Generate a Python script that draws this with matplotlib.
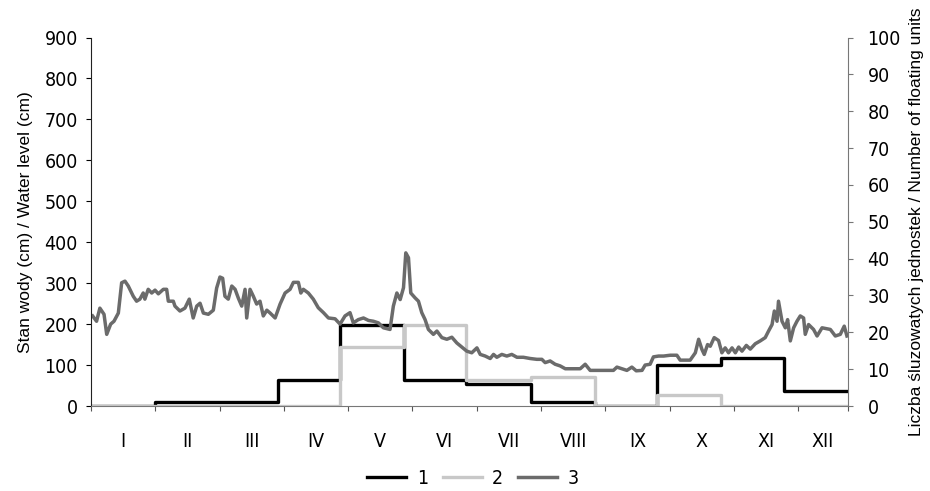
import numpy as np
import matplotlib
matplotlib.use('Agg')
import matplotlib.pyplot as plt

# monthly numbers of floating units (right axis)
month_start = [0, 31, 59, 90, 120, 151, 181, 212, 243, 273, 304, 334, 365]
units_1 = [0, 1, 1, 7, 22, 7, 6, 1, 0, 11, 13, 4]
units_2 = [0, 0, 0, 0, 16, 22, 7, 8, 0, 3, 0, 0]

# daily water level (cm) (day of year, level)
level_day = [0.8, 2.7, 4.3, 6.3, 7.6, 9.5, 11.1, 13.2, 14.8, 16.4, 18.0, 20.4,
             22.0, 23.6, 25.2, 26.0, 27.6, 29.3, 30.9, 32.5, 34.9, 36.5, 37.3,
             39.7, 40.5, 42.9, 45.3, 47.4, 49.3, 51.0, 52.6, 54.2, 56.6, 59.0,
             60.6, 62.2, 63.5, 64.6, 66.2, 67.9, 69.5, 71.1, 72.7, 74.3, 75.1,
             76.7, 78.3, 79.9, 81.5, 83.1, 84.8, 86.4, 88.8, 91.2, 93.6, 96.0,
             97.6, 100.0, 101.2, 102.4, 104.8, 107.2, 109.6, 112.1, 114.5, 117.7,
             120.1, 122.5, 124.9, 126.5, 128.9, 131.4, 133.8, 136.2, 138.6, 141.0,
             144.2, 145.8, 147.5, 149.1, 150.7, 151.8, 153.1, 154.2, 156.3, 157.9,
             159.5, 161.1, 162.7, 165.1, 166.8, 169.2, 171.6, 174.0, 176.4, 178.8,
             181.2, 183.6, 186.1, 187.7, 190.1, 192.5, 194.1, 195.7, 198.1, 200.5,
             202.9, 205.4, 208.5, 211.8, 215.0, 217.4, 219.0, 221.4, 223.8, 226.2,
             228.7, 231.1, 235.9, 238.3, 240.7, 245.5, 251.9, 253.6, 256.0, 258.4,
             260.8, 262.9, 265.7, 267.2, 269.6, 271.2, 273.7, 276.1, 279.3, 282.5,
             284.1, 288.9, 291.4, 293.0, 294.6, 295.7, 297.3, 298.6, 300.5, 302.6,
             304.2, 305.8, 307.4, 309.1, 310.7, 312.3, 313.9, 316.0, 317.9, 320.3,
             322.7, 325.1, 326.7, 328.4, 329.5, 330.8, 331.5, 333.2, 334.8, 335.9,
             337.2, 338.8, 340.4, 342.0, 343.6, 344.4, 346.0, 348.4, 350.1, 352.5,
             356.5, 358.9, 361.3, 363.2, 364.5]
level_cm = [220, 207, 239, 224, 175, 200, 207, 227, 301, 305, 293, 268,
            256, 261, 276, 261, 285, 276, 283, 274, 285, 285, 256,
            256, 244, 232, 239, 261, 215, 244, 251, 227, 224, 234,
            288, 315, 312, 268, 261, 293, 285, 263, 244, 285, 215,
            285, 268, 249, 256, 220, 234, 227, 215, 249, 276, 285,
            302, 302, 276, 285, 276, 261, 240, 228, 215, 213,
            200, 220, 228, 203, 211, 215, 209, 207, 203, 191,
            187, 244, 276, 260, 289, 374, 362, 276, 264, 256,
            228, 211, 187, 175, 183, 167, 163, 168, 154, 144,
            134, 130, 142, 126, 122, 116, 126, 119, 126, 122,
            126, 119, 119, 116, 114, 114, 106, 110, 102, 98,
            91, 91, 91, 102, 87, 87, 87, 95, 91, 87,
            95, 86, 87, 100, 102, 120, 122, 122, 124, 124,
            112, 112, 130, 163, 138, 126, 150, 146, 167, 160,
            130, 142, 130, 142, 130, 144, 134, 148, 139, 152,
            159, 167, 183, 199, 232, 207, 256, 207, 191, 211,
            159, 191, 207, 220, 215, 175, 199, 187, 171, 191,
            187, 171, 175, 195, 171]

month_labels = ['I', 'II', 'III', 'IV', 'V', 'VI', 'VII', 'VIII', 'IX', 'X', 'XI', 'XII']
tick_days = [0, 31, 62, 93, 124, 155, 186, 217, 248, 279, 310, 341, 365]
label_days = [15.5, 46.5, 77.5, 108.5, 139.5, 170.5, 201.5, 232.5, 263.5, 294.5, 325.5, 353]

plt.rcParams['font.family'] = ['Liberation Sans', 'DejaVu Sans']
narrow = {'family': 'DejaVu Sans', 'stretch': 'condensed', 'size': 14}

fig = plt.figure(figsize=(9.3, 4.91), dpi=100)
ax = fig.add_axes([0.0978, 0.1731, 0.8140, 0.7505])
ax2 = ax.twinx()

ax2.step(month_start, units_1 + [units_1[-1]], where='post', color='black', lw=2.4, label='1')
ax2.step(month_start, units_2 + [units_2[-1]], where='post', color='#c8c8c8', lw=2.4, label='2')
ax.plot(level_day, level_cm, color='#6b6b6b', lw=2.5, label='3')

ax.set_zorder(ax2.get_zorder() + 1)
ax.patch.set_visible(False)

ax.set_xlim(0, 365)
ax.set_ylim(0, 900)
ax2.set_ylim(0, 100)
ax.set_yticks(range(0, 901, 100))
ax2.set_yticks(range(0, 101, 10))

ax.set_xticks(tick_days)
ax.set_xticklabels([])
ax.set_xticks(label_days, minor=True)
ax.set_xticklabels(month_labels, minor=True, fontdict=narrow)
ax.tick_params(axis='x', which='minor', length=0, pad=19)
ax.tick_params(axis='x', which='major', length=3.5, direction='out', color='#555555')

for lab in ax.get_yticklabels() + ax2.get_yticklabels():
    lab.set_family('DejaVu Sans')
    lab.set_stretch('condensed')
    lab.set_fontsize(14)
ax.tick_params(axis='y', length=3.5, pad=6)
ax2.tick_params(axis='y', length=3.5, pad=10.5, color='#777777')

for a in (ax, ax2):
    a.spines['top'].set_visible(False)
ax.spines['right'].set_visible(False)
ax2.spines['left'].set_visible(False)
ax2.spines['bottom'].set_visible(False)
ax2.spines['right'].set_color('#777777')
ax.spines['bottom'].set_color('#777777')
ax.spines['left'].set_color('#222222')

ax.set_ylabel('Stan wody (cm) / Water level (cm)', fontsize=12.5, labelpad=8)
ax2.set_ylabel('Liczba śluzowatych jednostek / Number of floating units', fontsize=12.5, labelpad=6)

h2, l2 = ax2.get_legend_handles_labels()
h1, l1 = ax.get_legend_handles_labels()
leg = fig.legend(h2 + h1, l2 + l1, loc='center', bbox_to_anchor=(473 / 930, 1 - 478 / 491),
                 ncol=3, frameon=False, handlelength=2.0, columnspacing=0.75, handletextpad=0.55,
                 prop=narrow)

fig.savefig('out.png', dpi=100)
